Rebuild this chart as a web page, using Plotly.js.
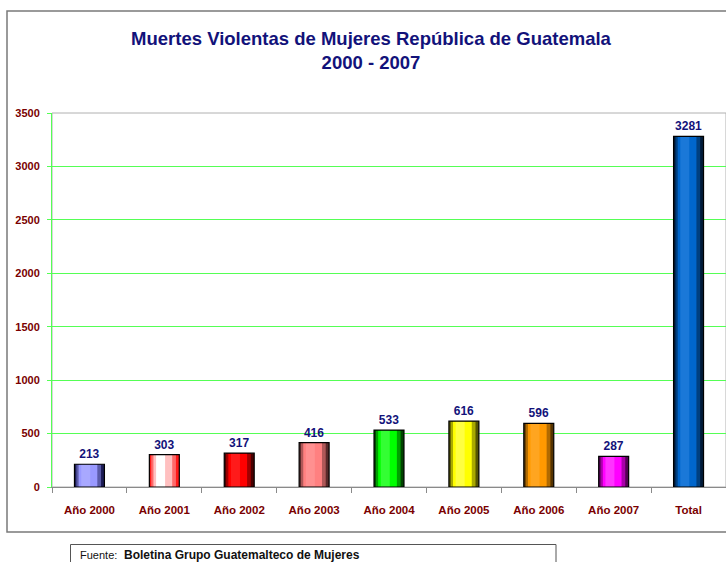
<!DOCTYPE html>
<html>
<head>
<meta charset="utf-8">
<script src="https://cdn.plot.ly/plotly-3.0.1.min.js"></script>
<style>
  html, body { margin: 0; padding: 0; background: #ffffff; }
  #chart { width: 726px; height: 562px; }
</style>
</head>
<body>
<div id="chart"></div>
<script>
// ---- data ----
const categories = ["Año 2000", "Año 2001", "Año 2002", "Año 2003", "Año 2004", "Año 2005", "Año 2006", "Año 2007", "Total"];
const values = [213, 303, 317, 416, 533, 616, 596, 287, 3281];
const yTicks = [0, 500, 1000, 1500, 2000, 2500, 3000, 3500];
const titleText = "Muertes Violentas de Mujeres República de Guatemala<br>2000 - 2007";
const sourceLabel = "Fuente:";
const sourceText = "Boletina Grupo Guatemalteco de Mujeres";

// ---- styles (bar shading: edge -> mid -> main -> highlight) ----
const edgeColors = ["#1c1c55", "#ff1a1a", "#4a0000", "#5a2a2a", "#004400", "#555500", "#553300", "#550055", "#001a38"];
const midColors  = ["#5a5aa8", "#ff6a6a", "#a00000", "#b05858", "#00a000", "#aaaa00", "#b06a00", "#aa00aa", "#003f7f"];
const mainColors = ["#9999ff", "#ffc0c0", "#ff0000", "#ff8080", "#00ff00", "#ffff00", "#ff9900", "#ff00ff", "#0066cc"];
const hiColors   = ["#a8a8ff", "#ffffff", "#ff1a1a", "#ff9090", "#33ff33", "#ffff40", "#ffa520", "#ff33ff", "#1a78d8"];

const font = "Liberation Sans, Arial, sans-serif";
const navy = "#12127a";
const darkRed = "#7a0000";

function layer(colors, offset, width) {
  return {
    type: "bar", x: categories, y: values,
    offset: offset, width: width,
    marker: { color: colors, line: { width: 0 } },
    hoverinfo: "skip", showlegend: false
  };
}

const traces = [
  layer(edgeColors, -0.2, 0.4),
  layer(midColors, -0.175, 0.33),
  layer(mainColors, -0.145, 0.25),
  layer(hiColors, -0.11, 0.12),
  {
    type: "bar", x: categories, y: values,
    offset: -0.2, width: 0.4,
    marker: { color: "rgba(0,0,0,0)", line: { color: "#000000", width: 1.2 } },
    text: values.map(String), textposition: "outside",
    textfont: { family: font, size: 12, color: navy, weight: "bold" },
    cliponaxis: false, hoverinfo: "skip", showlegend: false
  }
];

const W = 726, L = 52, Rpx = 726, T = 113, B = 487;
const px2x = p => (p - L) / (Rpx - L);
const py2y = p => (B - p) / (B - T);

const layout = {
  width: 726, height: 562,
  margin: { l: L, r: W - Rpx, t: T, b: 562 - B, pad: 0 },
  paper_bgcolor: "#ffffff", plot_bgcolor: "#ffffff",
  barmode: "overlay",
  title: {
    text: titleText,
    font: { family: font, size: 18.5, color: navy, weight: "bold" },
    xref: "paper", x: px2x(371), xanchor: "center",
    yref: "container", y: 1 - 45 / 562, yanchor: "middle"
  },
  xaxis: {
    type: "category",
    showgrid: false, zeroline: false,
    showline: true, linecolor: "#8a8a8a", linewidth: 1,
    ticks: "outside", tickson: "boundaries", ticklen: 5, tickcolor: "#8a8a8a",
    ticklabelstandoff: 12,
    tickfont: { family: font, size: 11.5, color: darkRed, weight: "bold" },
    fixedrange: true
  },
  yaxis: {
    range: [0, 3500], tickvals: yTicks,
    showgrid: true, gridcolor: "#55ff55", gridwidth: 1,
    zeroline: false,
    showline: true, linecolor: "#55ff55", linewidth: 1,
    ticks: "outside", ticklen: 4, tickcolor: "#55ff55", ticklabelstandoff: 5,
    tickfont: { family: font, size: 11, color: darkRed, weight: "bold" },
    fixedrange: true
  },
  shapes: [
    // plot area border (top / right)
    { type: "rect", xref: "paper", yref: "paper", x0: 0, x1: 1, y0: 0, y1: 1,
      line: { color: "#b0b0b0", width: 1 }, fillcolor: "rgba(0,0,0,0)", layer: "below" },
    // outer chart border
    { type: "rect", xref: "paper", yref: "paper",
      x0: px2x(7), x1: px2x(740), y0: py2y(532), y1: py2y(11),
      line: { color: "#7a7a7a", width: 1.5 }, fillcolor: "rgba(0,0,0,0)", layer: "below" },
    // source box
    { type: "rect", xref: "paper", yref: "paper",
      x0: px2x(70.5), x1: px2x(556), y0: py2y(568), y1: py2y(544.5),
      line: { color: "#555555", width: 1 }, fillcolor: "rgba(0,0,0,0)", layer: "below" }
  ],
  annotations: [
    { xref: "paper", yref: "paper", x: px2x(79), y: py2y(554.5),
      xanchor: "left", yanchor: "middle", showarrow: false, borderpad: 0,
      text: "<span style='font-size:11px'>" + sourceLabel + "</span>  <b>" + sourceText + "</b>",
      font: { family: font, size: 12, color: "#111111" } }
  ]
};

Plotly.newPlot("chart", traces, layout, { displayModeBar: false, staticPlot: true });
</script>
</body>
</html>
